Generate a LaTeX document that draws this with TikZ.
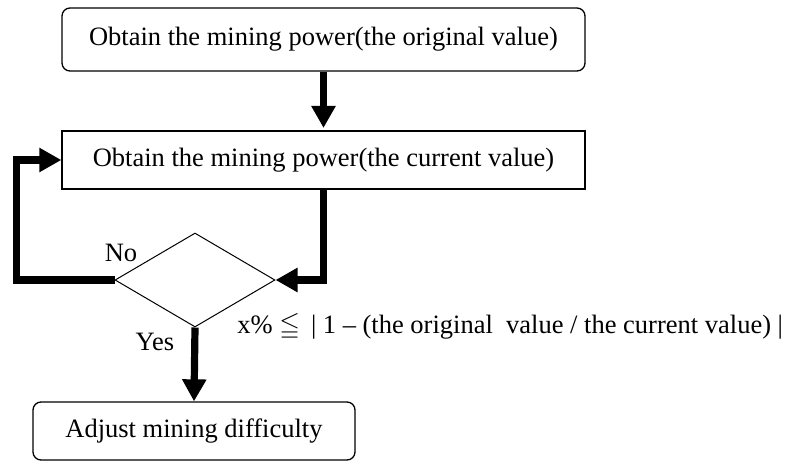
\documentclass[tikz,border=0pt]{standalone}
\usepackage{fontspec}
\usepackage{amssymb}
\setmainfont{Liberation Serif}
\usetikzlibrary{arrows.meta,shapes.geometric}
\tikzset{
  base/.style={draw=black, line width=0.65pt, inner sep=0pt, font=\fontsize{13.25}{15}\selectfont},
  roundbox/.style={base, rounded corners=4pt},
  plainbox/.style={base},
  decbox/.style={draw=black, line width=0.5pt, shape=diamond, inner sep=0pt, aspect=1.7},
  arr/.style={line width=3.6pt, -{Triangle[length=11pt,width=11.5pt]}},
  lbl/.style={inner sep=0pt, font=\fontsize{13.25}{15}\selectfont}
}
\begin{document}
\begin{tikzpicture}[x=0.5pt,y=-0.5pt]
\useasboundingbox (0,0) rectangle (788,461);
\node[roundbox, minimum width=261.5pt, minimum height=31.5pt] (top) at (323.5,39.5) {Obtain the mining power(the original value)};
\node[plainbox, minimum width=261.5pt, minimum height=29pt] (cur) at (323.5,160) {Obtain the mining power(the current value)};
\node[decbox, minimum width=80pt, minimum height=47pt] (dec) at (195,280) {};
\node[roundbox, minimum width=161pt, minimum height=29pt] (bot) at (194,431) {Adjust mining difficulty};
\coordinate (lx) at (16.5,0);
\draw[arr, shorten >=1.2pt] (top.south) -- (cur.north);
\draw[arr] (cur.south) |- (dec.east);
\draw[arr] (dec.west) -- (dec.west -| lx) |- (cur.west);
\draw[arr] (dec.south) -- (bot.north);
\node[lbl] (no) at (121,253) {No};
\node[lbl] (yes) at (155,342) {Yes};
\node[lbl, anchor=west] (cond) at (237,327) {x\% $\leqq$ \,| 1 – (the original\ \ value / the current value) |};
\end{tikzpicture}
\end{document}
